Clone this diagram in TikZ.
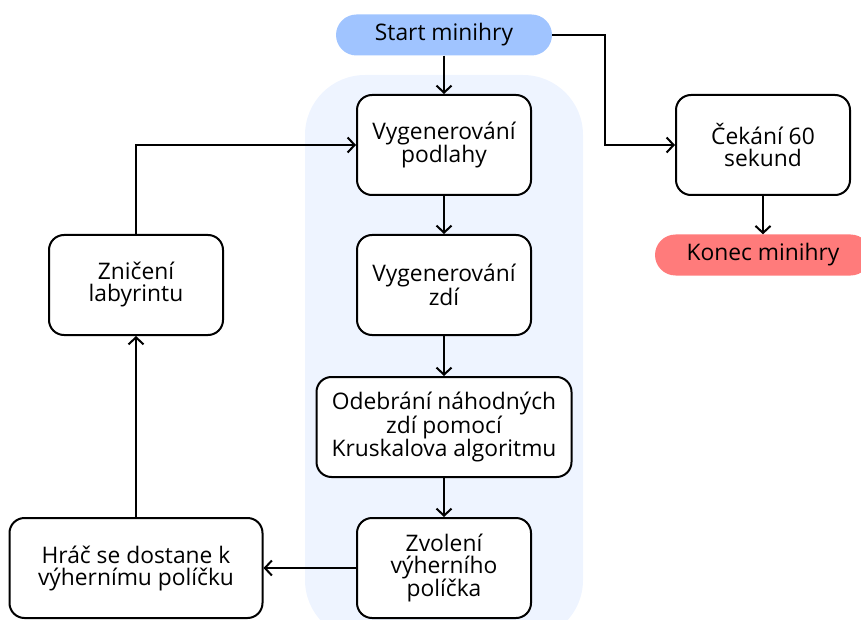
\documentclass[tikz,border=0pt]{standalone}
\usepackage{fontspec}
\setmainfont{Open Sans}
\usetikzlibrary{arrows.meta}
\definecolor{startblue}{HTML}{A0C4FF}
\definecolor{endred}{HTML}{FF7B7B}
\definecolor{groupbg}{HTML}{EEF4FF}
\tikzstyle{box}=[draw, line width=2pt, rounded corners=15pt, fill=white, align=center, minimum width=174pt, minimum height=100pt, font=\fontsize{22.8}{22}\selectfont]
\tikzstyle{term}=[rounded corners=20.5pt, align=center, minimum width=216pt, minimum height=41pt, font=\fontsize{22.8}{22}\selectfont]
\tikzstyle{arr}=[line width=2pt, -{Straight Barb[length=7pt,width=15pt,line width=2pt]}]

\begin{document}
\begin{tikzpicture}[x=1pt, y=1pt]
            \useasboundingbox (0,0) rectangle (861,-620);
            \begin{scope}
                \clip (0,0) rectangle (861,-620);
                \fill [groupbg, rounded corners=60pt] (305,-75) rectangle (583,-640);
            \end{scope}
            \node [box] at (444,-145) (podlahy) {Vygenerování\\podlahy};
            \node [term, fill=startblue, above of=podlahy, node distance=110pt] (start) {Start minihry};
            \node [box, below of=podlahy, node distance=140pt] (zdi) {Vygenerování\\zdí};
            \node [box, minimum width=255pt, below of=zdi, node distance=142pt] (odebrani) {Odebrání náhodných\\zdí pomocí\\Kruskalova algoritmu};
            \node [box, below of=odebrani, node distance=141pt] (zvoleni) {Zvolení\\výherního\\políčka};
            \node [box, minimum width=253pt, left of=zvoleni, node distance=308pt] (hrac) {Hráč se dostane k\\výhernímu políčku};
            \node [box, above of=hrac, node distance=283pt] (zniceni) {Zničení\\labyrintu};
            \node [box, right of=podlahy, node distance=319pt] (cekani) {Čekání 60\\sekund};
            \node [term, fill=endred, below of=cekani, node distance=110pt] (konec) {Konec minihry};
            \path[arr] (start) edge (podlahy);
            \draw[arr] (start.east) -- ++(53,0) |- (cekani.west);
            \path[arr] (cekani) edge (konec);
            \path[arr] (podlahy) edge (zdi);
            \path[arr] (zdi) edge (odebrani);
            \path[arr] (odebrani) edge (zvoleni);
            \path[arr] (zvoleni) edge (hrac);
            \path[arr] (hrac) edge (zniceni);
            \draw[arr] (zniceni.north) |- (podlahy.west);
        \end{tikzpicture}
\end{document}
